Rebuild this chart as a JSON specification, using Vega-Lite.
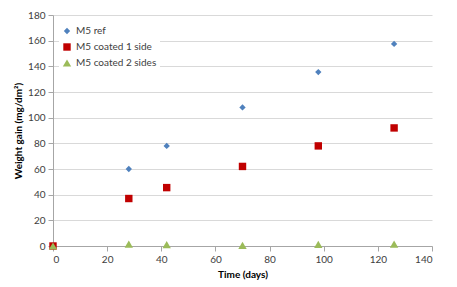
{
  "$schema": "https://vega.github.io/schema/vega-lite/v6.json",
  "width": 379,
  "height": 231,
  "autosize": {"type": "none"},
  "padding": {"left": 53, "top": 15, "right": 25, "bottom": 41},
  "background": "white",
  "config": {
    "view": {"stroke": null},
    "font": "Lato",
    "axis": {"labelFont": "Lato", "titleFont": "Lato", "labelColor": "#404040", "titleColor": "#000000", "labelFontSize": 10, "titleFontSize": 10, "titleFontWeight": "bold", "domainColor": "#A6A6A6", "tickColor": "#A6A6A6", "gridColor": "#D9D9D9"}
  },
  "data": {
    "values": [
      {"t": 0, "w": 0, "s": "M5 ref"},
      {"t": 28, "w": 60, "s": "M5 ref"},
      {"t": 42, "w": 78, "s": "M5 ref"},
      {"t": 70, "w": 108, "s": "M5 ref"},
      {"t": 98, "w": 135.5, "s": "M5 ref"},
      {"t": 126, "w": 157.5, "s": "M5 ref"},
      {"t": 0, "w": 0, "s": "M5 coated 1 side"},
      {"t": 28, "w": 37, "s": "M5 coated 1 side"},
      {"t": 42, "w": 45.5, "s": "M5 coated 1 side"},
      {"t": 70, "w": 62, "s": "M5 coated 1 side"},
      {"t": 98, "w": 78, "s": "M5 coated 1 side"},
      {"t": 126, "w": 92, "s": "M5 coated 1 side"},
      {"t": 0, "w": 0, "s": "M5 coated 2 sides"},
      {"t": 28, "w": 1.5, "s": "M5 coated 2 sides"},
      {"t": 42, "w": 1, "s": "M5 coated 2 sides"},
      {"t": 70, "w": 0.5, "s": "M5 coated 2 sides"},
      {"t": 98, "w": 1.2, "s": "M5 coated 2 sides"},
      {"t": 126, "w": 1.5, "s": "M5 coated 2 sides"}
    ]
  },
  "mark": {"type": "point", "filled": true, "opacity": 1},
  "encoding": {
    "x": {"field": "t", "type": "quantitative", "title": "Time (days)",
      "scale": {"domain": [0, 140], "nice": false},
      "axis": {"values": [0, 20, 40, 60, 80, 100, 120, 140], "grid": false, "tickSize": 5, "labelPadding": 3, "titlePadding": 5}},
    "y": {"field": "w", "type": "quantitative", "title": "Weight gain (mg/dm²)",
      "scale": {"domain": [0, 180], "nice": false},
      "axis": {"values": [0, 20, 40, 60, 80, 100, 120, 140, 160, 180], "grid": true, "tickSize": 5, "labelPadding": 3, "titlePadding": 4}},
    "color": {"field": "s", "type": "nominal", "sort": ["M5 ref", "M5 coated 1 side", "M5 coated 2 sides"],
      "scale": {"domain": ["M5 ref", "M5 coated 1 side", "M5 coated 2 sides"], "range": ["#4F81BD", "#C00000", "#9BBB59"]},
      "legend": {"title": null, "orient": "none", "legendX": 6, "legendY": 8, "labelFont": "Lato", "labelFontSize": 10, "labelColor": "#404040", "rowPadding": 6, "symbolSize": 50, "fillColor": "white", "padding": 3}},
    "shape": {"field": "s", "type": "nominal", "sort": ["M5 ref", "M5 coated 1 side", "M5 coated 2 sides"],
      "scale": {"domain": ["M5 ref", "M5 coated 1 side", "M5 coated 2 sides"], "range": ["diamond", "square", "triangle-up"]},
      "legend": null},
    "size": {"field": "s", "type": "nominal",
      "scale": {"domain": ["M5 ref", "M5 coated 1 side", "M5 coated 2 sides"], "range": [40, 70, 80]},
      "legend": null}
  }
}
